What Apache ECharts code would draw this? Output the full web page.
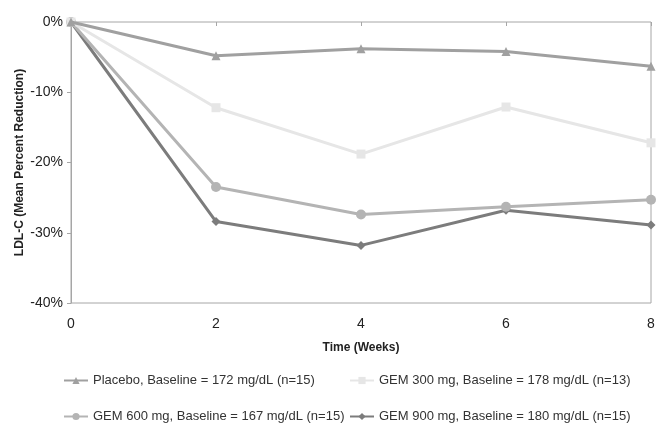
<!DOCTYPE html>
<html><head><meta charset="utf-8">
<script src="https://cdn.jsdelivr.net/npm/echarts@6/dist/echarts.min.js"></script>
<style>html,body{margin:0;padding:0;background:#fff}#c{width:667px;height:432px}</style>
</head><body><div id="c"></div>
<script>
var weeks = [0, 2, 4, 6, 8];
var placebo = [0, -4.8, -3.8, -4.2, -6.3];
var gem300 = [0, -12.2, -18.8, -12.1, -17.2];
var gem600 = [0, -23.5, -27.4, -26.3, -25.3];
var gem900 = [0, -28.4, -31.8, -26.8, -28.9];
var names = ['Placebo, Baseline = 172 mg/dL (n=15)', 'GEM 300 mg, Baseline = 178 mg/dL (n=13)', 'GEM 600 mg, Baseline = 167 mg/dL (n=15)', 'GEM 900 mg, Baseline = 180 mg/dL (n=15)'];
var colors = ['#a0a0a0', '#e6e6e6', '#b4b4b4', '#7c7c7c'];
var symbols = ['triangle', 'rect', 'circle', 'diamond'];
var values = [placebo, gem300, gem600, gem900];

function pts(v){ return weeks.map(function(w,i){ return [w, v[i]]; }); }

var font = 'Liberation Sans, Arial, sans-serif';
var series = values.map(function(v, i){
  return {
    name: names[i], type: 'line', data: pts(v), symbol: symbols[i],
    symbolSize: symbols[i]==='circle' ? 10 : 9,
    lineStyle: {color: colors[i], width: 3},
    itemStyle: {color: colors[i]},
    z: 10 - i, animation: false
  };
});
var legendPos = [[58, 369], [344, 369], [58, 405], [344, 405]];
var legends = names.map(function(n, i){
  return {
    data: [n], left: legendPos[i][0], top: legendPos[i][1], itemWidth: 24, itemHeight: 9,
    textStyle: {fontFamily: font, fontSize: 13, color: '#333'}, selectedMode: false
  };
});
var chart = echarts.init(document.getElementById('c'));
chart.setOption({
  backgroundColor: '#fff',
  animation: false,
  grid: {left: 71, right: 16, top: 22, bottom: 129, show: true, borderColor: '#a6a6a6', borderWidth: 1},
  legend: legends,
  xAxis: [{
    type: 'value', min: 0, max: 8, interval: 2, position: 'bottom',
    name: 'Time (Weeks)', nameLocation: 'middle', nameGap: 39,
    nameTextStyle: {fontFamily: font, fontSize: 12, fontWeight: 'bold', color: '#222'},
    axisLine: {show: false}, axisTick: {show: false}, splitLine: {show: false},
    axisLabel: {fontFamily: font, fontSize: 14, color: '#222', margin: 14}
  }, {
    type: 'value', min: 0, max: 8, interval: 2, position: 'top',
    axisLine: {show: false}, axisTick: {show: true, inside: true, length: 4, lineStyle: {color: '#a6a6a6'}},
    axisLabel: {show: false}, splitLine: {show: false}
  }],
  yAxis: {
    type: 'value', min: -40, max: 0, interval: 10,
    name: 'LDL-C (Mean Percent Reduction)', nameLocation: 'middle', nameGap: 45, nameMoveOverlap: false,
    nameTextStyle: {fontFamily: font, fontSize: 12, fontWeight: 'bold', color: '#222'},
    axisLine: {show: true, lineStyle: {color: '#a6a6a6'}},
    axisTick: {show: true, length: 4, lineStyle: {color: '#a6a6a6'}},
    splitLine: {show: false},
    axisLabel: {fontFamily: font, fontSize: 14, color: '#222', margin: 8, formatter: function(v){ return v + '%'; }}
  },
  series: series
});
</script></body></html>
